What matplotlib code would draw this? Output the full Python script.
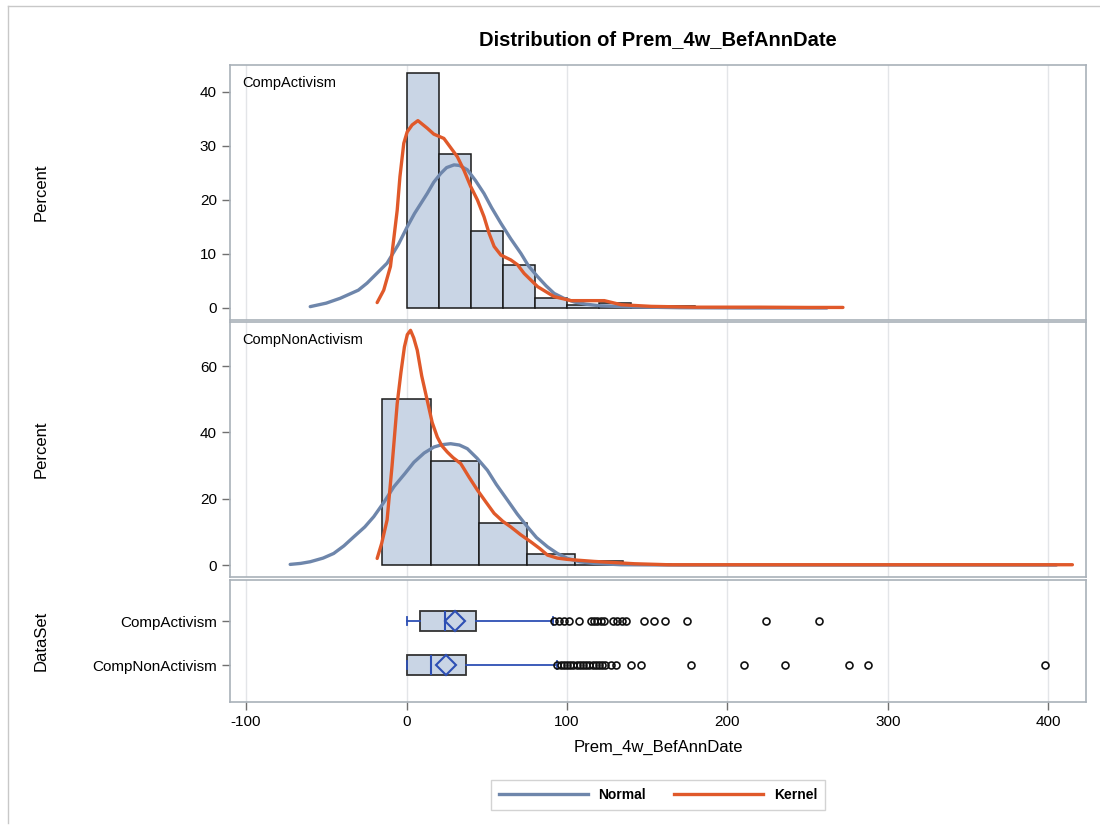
#!/usr/bin/env python3
# Distribution of Prem_4w_BefAnnDate: histograms + normal/kernel curves per group, box plots below
import numpy as np
import matplotlib
matplotlib.use("Agg")
import matplotlib.pyplot as plt
from matplotlib.lines import Line2D

plt.rcParams['font.family'] = ['Liberation Sans', 'DejaVu Sans']

# --- CompActivism histogram (bin edges, percent)
act_edges = [0, 20, 40, 60, 80, 100, 120, 140, 160, 180, 200, 220, 240, 260]
act_pct = [43.6, 28.6, 14.3, 7.9, 1.85, 0.5, 0.9, 0.3, 0.3, 0.0, 0.0, 0.12, 0.12]

# --- CompNonActivism histogram
non_edges = [-15, 15, 45, 75, 105, 135, 165, 195, 225, 255, 285, 315, 345, 375, 405]
non_pct = [50.0, 31.3, 12.7, 3.3, 1.3, 0.3, 0.1, 0.1, 0.1, 0.1, 0.1, 0.0, 0.0, 0.1]

# --- curves (x, percent)
act_norm_x = [-60, -50, -41.3, -30, -24.6, -12.1, -5, 0.4, 5, 12.9, 17, 21.3, 25, 29.6,
              33, 37.9, 43, 48.3, 53, 58.8, 65, 71.3, 76, 81.7, 87, 92, 98, 104.6, 112,
              121, 140, 170, 210, 262]
act_norm_y = [0.25, 0.9, 1.8, 3.3, 4.6, 8.3, 11.8, 15.0, 17.5, 21.2, 23.3, 24.9, 26.0, 26.5,
              26.4, 25.6, 23.6, 21.2, 18.6, 15.7, 12.8, 10.1, 7.8, 5.8, 4.1, 2.7, 1.8, 1.1,
              0.7, 0.4, 0.2, 0.05, 0.0, 0.0]
act_kern_x = [-18.3, -14.2, -10, -5.8, -4.1, -1.7, 0.4, 3.5, 7.1, 12.9, 17, 23.3, 31.7,
              35.8, 40, 44.2, 48.3, 51.5, 54.6, 58.8, 65, 69.2, 73.3, 81.7, 92, 102.5, 110.8,
              123.3, 133.8, 152.5, 180, 220, 250, 272]
act_kern_y = [1.0, 3.3, 7.7, 18.1, 24.3, 30.5, 32.6, 33.9, 34.7, 33.3, 32.2, 31.4, 28.0,
              25.5, 22.5, 20.0, 16.9, 13.8, 11.4, 9.8, 8.9, 8.0, 6.4, 3.95, 2.1, 1.36, 1.36,
              1.36, 0.6, 0.3, 0.15, 0.15, 0.1, 0.1]

non_norm_x = [-72.5, -66, -60, -52, -45.4, -39, -32.9, -26, -20.4, -14, -7.9, -1, 4.6, 11,
              17.1, 22, 27.5, 33, 37.9, 44, 50.4, 56, 62.9, 69, 75.4, 81, 87.9, 94, 100.4,
              108, 117, 133.8, 170, 250, 330, 405]
non_norm_y = [0.2, 0.5, 1.0, 2.1, 3.5, 5.8, 8.5, 11.5, 14.6, 19.0, 23.6, 27.6, 31.0, 33.8,
              35.6, 36.3, 36.6, 36.2, 35.1, 32.2, 28.6, 24.3, 19.6, 15.4, 11.5, 8.3, 5.5,
              3.5, 2.0, 1.0, 0.5, 0.1, 0.0, 0.0, 0.0, 0.0]
non_kern_x = [-18.3, -15.5, -12.1, -9, -5.8, -3.5, -1.3, 0.5, 2.5, 4.5, 6.7, 9.5, 12.9, 16,
              19.2, 22, 25.4, 29, 33.8, 39, 44.2, 49.5, 54.6, 60, 65, 71, 77.5, 83, 87.9,
              94, 100.4, 117, 142, 163, 200, 260, 320, 380, 415]
non_kern_y = [2.0, 6.5, 13.6, 30.0, 48.7, 58.0, 65.8, 69.5, 70.8, 68.5, 64.8, 57.0, 49.7,
              43.0, 38.6, 36.0, 34.1, 32.4, 30.6, 26.5, 22.6, 19.0, 15.6, 13.2, 11.5, 9.2,
              7.0, 5.0, 3.0, 2.1, 1.7, 1.1, 0.4, 0.1, 0.1, 0.1, 0.1, 0.1, 0.1]

# --- box plot summaries
groups = ["CompActivism", "CompNonActivism"]
box_min = [0, 0]
box_q1 = [8.2, 0]
box_med = [23.8, 15]
box_mean = [30, 24.8]
box_q3 = [43, 37.3]
box_max = [91, 93.5]
act_out = [92, 95, 98, 101, 107.5, 115, 117, 119, 121, 123, 128.5, 131, 134, 137, 148,
           154, 161, 175, 224, 257]
non_out = [94, 96, 98, 100, 102, 104, 106, 108, 110, 112, 114, 116, 118, 120, 122, 124,
           127.5, 130.6, 140, 146, 177, 210.4, 236, 276, 287.5, 398]

fill = "#c9d5e5"
c_norm = "#6e86ab"
c_kern = "#e0592a"
c_frame = "#a9b1b9"
c_grid = "#e3e5e8"
xlim = (-110, 423.5)
xticks = [-100, 0, 100, 200, 300, 400]

fig = plt.figure(figsize=(11, 8.27), dpi=100)
ax1 = fig.add_axes([0.2091, 0.6131, 0.7782, 0.3083])
ax2 = fig.add_axes([0.2091, 0.3023, 0.7782, 0.3083])
ax3 = fig.add_axes([0.2091, 0.1511, 0.7782, 0.1475])


def style(ax):
    for s in ax.spines.values():
        s.set_color(c_frame)
        s.set_linewidth(1.2)
    ax.set_xlim(*xlim)
    ax.set_xticks(xticks)
    for xt in xticks:
        ax.axvline(xt, color=c_grid, lw=1, zorder=0)
    ax.tick_params(axis='both', labelsize=11, color='#707070', length=6, width=1)


for ax, edges, pct, nx, ny, kx, ky, name, ylim, yt in [
        (ax1, act_edges, act_pct, act_norm_x, act_norm_y, act_kern_x, act_kern_y,
         "CompActivism", (-2.22, 45.0), [0, 10, 20, 30, 40]),
        (ax2, non_edges, non_pct, non_norm_x, non_norm_y, non_kern_x, non_kern_y,
         "CompNonActivism", (-3.6, 73.3), [0, 20, 40, 60])]:
    style(ax)
    w = np.diff(edges)
    ax.bar(edges[:-1], pct, width=w, align='edge', color=fill, edgecolor='#1a1a1a',
           linewidth=1.1, zorder=2)
    ax.plot(nx, ny, color=c_norm, lw=2.4, zorder=3, solid_capstyle='round',
            solid_joinstyle='round')
    ax.plot(kx, ky, color=c_kern, lw=2.4, zorder=4, solid_capstyle='round',
            solid_joinstyle='round')
    ax.set_ylim(*ylim)
    ax.set_yticks(yt)
    ax.tick_params(axis='x', bottom=False, labelbottom=False)
    ax.set_ylabel("Percent", fontsize=12)
    ax.yaxis.set_label_coords(-0.212, 0.5)
    ax.text(0.014, 0.93, name, transform=ax.transAxes, fontsize=10.5, va='center')

# box plots
style(ax3)
stats = []
for i, g in enumerate(groups):
    stats.append(dict(label=g, whislo=box_min[i], q1=box_q1[i], med=box_med[i],
                      mean=box_mean[i], q3=box_q3[i], whishi=box_max[i],
                      fliers=np.array([act_out, non_out][i])))
c_box = "#2d4fb4"
ax3.bxp(stats, positions=[0, 1], widths=0.44, orientation='horizontal', patch_artist=True,
        showmeans=True, capwidths=0.2,
        boxprops=dict(facecolor=fill, edgecolor='#333333', linewidth=1.3),
        medianprops=dict(color=c_box, linewidth=1.5),
        whiskerprops=dict(color=c_box, linewidth=1.3),
        capprops=dict(color=c_box, linewidth=1.3),
        meanprops=dict(marker='D', markersize=10, markerfacecolor='none',
                       markeredgecolor=c_box, markeredgewidth=1.5),
        flierprops=dict(marker='o', markersize=5, markerfacecolor='none',
                        markeredgecolor='#111111', markeredgewidth=1.2))
ax3.set_ylim(1.84, -0.93)
ax3.set_yticks([0, 1])
ax3.set_yticklabels(groups, fontsize=11)
ax3.set_ylabel("DataSet", fontsize=12)
ax3.yaxis.set_label_coords(-0.212, 0.5)
ax3.set_xlabel("Prem_4w_BefAnnDate", fontsize=12, labelpad=8)
ax3.set_xticks(xticks)
ax3.set_xticklabels([str(t) for t in xticks], fontsize=11)

fig.text(658 / 1100, 1 - 40 / 827, "Distribution of Prem_4w_BefAnnDate",
         fontsize=14.5, fontweight='bold', ha='center', va='center')

handles = [Line2D([], [], color=c_norm, lw=2.4), Line2D([], [], color=c_kern, lw=2.4)]
leg = fig.legend(handles, ["Normal", "Kernel"], loc='center', ncol=2,
                 bbox_to_anchor=(658 / 1100, 1 - 795 / 827), frameon=True, fancybox=False,
                 handlelength=6.4, columnspacing=2.0, borderpad=0.55,
                 prop={'weight': 'bold', 'size': 10})
leg.get_frame().set_edgecolor('#c8c8c8')
leg.get_frame().set_linewidth(1)

# outer frame lines
fig.add_artist(Line2D([8 / 1100, 8 / 1100], [0.005, 1 - 6 / 827], color='#c8c8c8', lw=1))
fig.add_artist(Line2D([8 / 1100, 1.0], [1 - 6 / 827, 1 - 6 / 827], color='#c8c8c8', lw=1))

fig.savefig("out.png", dpi=100)
